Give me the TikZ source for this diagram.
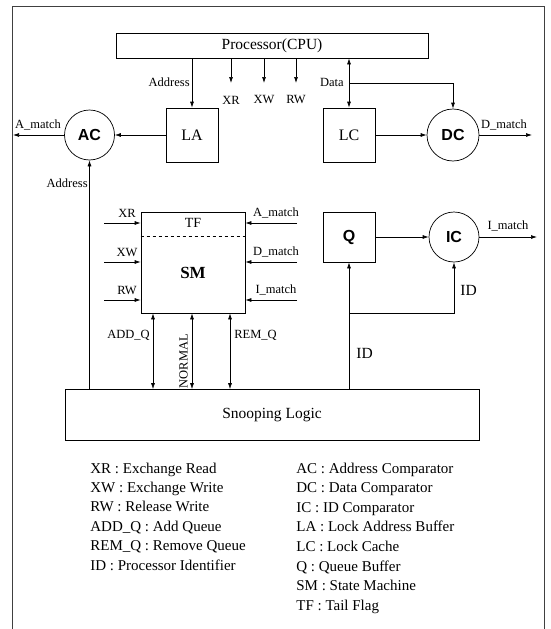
\documentclass[tikz,border=0pt]{standalone}
\usepackage{fontspec}
\setmainfont{Liberation Serif}
\newfontfamily\hel{Liberation Sans}
\usetikzlibrary{arrows.meta,calc}
\begin{document}
\begin{tikzpicture}[x=1pt,y=-1pt,
  line width=0.7pt,
  arr/.style={-{Latex[length=6pt,width=4pt]}},
  dbl/.style={{Latex[length=6pt,width=4pt]}-{Latex[length=6pt,width=4pt]}},
  box/.style={draw,rectangle,inner sep=0pt},
  cmp/.style={draw,circle,inner sep=0pt,minimum size=50pt,font=\hel\bfseries\fontsize{16}{18}\selectfont},
  lbl/.style={inner sep=1pt,font=\fontsize{12.5}{14}\selectfont},
  big/.style={inner sep=0pt,font=\fontsize{15.5}{18}\selectfont},
  leg/.style={anchor=base west,inner sep=0pt,font=\fontsize{15}{18}\selectfont},
  frame/.style={draw=black!75,line width=0.8pt}]
\useasboundingbox (0,0) rectangle (551,629);
% frame
\draw[frame] (12,629) -- (12,6) -- (544,6) -- (544,629);
% nodes
\node[box,minimum width=312pt,minimum height=25pt,big] (proc) at (272,45.5) {Processor(CPU)};
\node[box,minimum width=52pt,minimum height=54pt,font=\fontsize{16}{18}\selectfont] (la) at (192,135) {LA};
\node[box,minimum width=52pt,minimum height=54pt,font=\fontsize{16}{18}\selectfont] (lc) at (349,135) {LC};
\node[cmp] (ac) at (89.5,135) {AC};
\node[cmp,minimum size=52pt] (dc) at (453,135) {DC};
\node[box,minimum width=104pt,minimum height=101pt] (sm) at (193,262.5) {};
\node[font=\fontsize{14}{16}\selectfont,inner sep=0pt] (tf) at ([yshift=-11pt]sm.north) {TF};
\node[font=\bfseries\fontsize{17}{19}\selectfont,inner sep=0pt] (smt) at ([yshift=-10pt]sm.center) {SM};
\draw[dashed] ([yshift=-25pt]sm.north west) -- ([yshift=-25pt]sm.north east);
\node[box,minimum width=52pt,minimum height=50pt,font=\hel\bfseries\fontsize{16}{18}\selectfont] (q) at (349,237) {Q};
\node[cmp] (ic) at (454,237) {IC};
\node[box,minimum width=414pt,minimum height=51pt,big] (sl) at (272,415) {Snooping Logic};
% top connectors
\draw[arr] (la.north |- proc.south) -- (la.north);
\node[lbl,anchor=east] (addr1) at (191,82) {Address};
\coordinate (xre) at (231,83);
\coordinate (xwe) at (264,83);
\coordinate (rwe) at (296,83);
\draw[arr] (xre |- proc.south) -- (xre);
\draw[arr] (xwe |- proc.south) -- (xwe);
\draw[arr] (rwe |- proc.south) -- (rwe);
\node[lbl] (xrl) at (231,100) {XR};
\node[lbl] (xwl) at (264,100) {XW};
\node[lbl] (rwl) at (296,100) {RW};
\draw[dbl] (lc.north |- proc.south) -- (lc.north);
\node[lbl,anchor=east] (datal) at (345,82) {Data};
\coordinate (dj) at (349,83);
\draw[arr] (dj) -| (dc.north);
% AC / DC
\draw[arr] (la.west) -- (ac.east);
\coordinate (ame) at (13,135);
\draw[arr] (ac.west) -- (ame);
\node[lbl] (amt) at (38,125) {A\_match};
\draw[arr] (ac.south |- sl.north) -- (ac.south);
\node[lbl,anchor=east] (addr2) at (89,183) {Address};
\draw[arr] (lc.east) -- (dc.west);
\coordinate (dme) at (532,135);
\draw[arr] (dc.east) -- (dme);
\node[lbl] (dmt) at (504,125) {D\_match};
% SM inputs
\coordinate (xri) at (104,223);
\coordinate (xwi) at (104,262);
\coordinate (rwi) at (104,300);
\draw[arr] (xri) -- (xri -| sm.west);
\draw[arr] (xwi) -- (xwi -| sm.west);
\draw[arr] (rwi) -- (rwi -| sm.west);
\node[lbl] (xrs) at (127,213) {XR};
\node[lbl] (xws) at (127,252) {XW};
\node[lbl] (rws) at (127,290) {RW};
\coordinate (ami) at (297,223);
\coordinate (dmi) at (297,262);
\coordinate (imi) at (297,300);
\draw[arr] (ami) -- (ami -| sm.east);
\draw[arr] (dmi) -- (dmi -| sm.east);
\draw[arr] (imi) -- (imi -| sm.east);
\node[lbl] (ams) at (276,213) {A\_match};
\node[lbl] (dms) at (276,252) {D\_match};
\node[lbl] (ims) at (276,290) {I\_match};
% SM <-> snooping
\draw[dbl] ([xshift=-40pt]sm.south) -- ([xshift=-40pt]sm.south |- sl.north);
\draw[dbl] ([xshift=-1pt]sm.south) -- ([xshift=-1pt]sm.south |- sl.north);
\draw[dbl] ([xshift=37pt]sm.south) -- ([xshift=37pt]sm.south |- sl.north);
\node[lbl,anchor=east] (addq) at (151,335) {ADD\_Q};
\node[lbl,anchor=south,rotate=90] (norm) at (189,361) {NORMAL};
\node[lbl,anchor=west] (remq) at (233,335) {REM\_Q};
% Q / IC
\draw[arr] (q.east) -- (ic.west);
\coordinate (ime) at (537,237);
\draw[arr] (ic.east) -- (ime);
\node[lbl] (imt) at (508,226) {I\_match};
\draw[arr] (q.south |- sl.north) -- (q.south);
\coordinate (idj) at (349,313);
\draw[arr] (idj) -| (ic.south);
\node[big,anchor=west] (id1) at (356,353) {ID};
\node[big,anchor=west] (id2) at (460,290) {ID};
% legend
\foreach \t [count=\i] in {{XR : Exchange Read},{XW : Exchange Write},{RW : Release Write},{ADD\_Q : Add Queue},{REM\_Q : Remove Queue},{ID : Processor Identifier}}
  \node[leg] (ll\i) at (90,{473+(\i-1)*19.4}) {\t};
\foreach \t [count=\i] in {{AC : Address Comparator},{DC : Data Comparator},{IC : ID Comparator},{LA : Lock Address Buffer},{LC : Lock Cache},{Q : Queue Buffer},{SM : State Machine},{TF : Tail Flag}}
  \node[leg] (lr\i) at (296,{473+(\i-1)*19.6}) {\t};
\end{tikzpicture}
\end{document}
